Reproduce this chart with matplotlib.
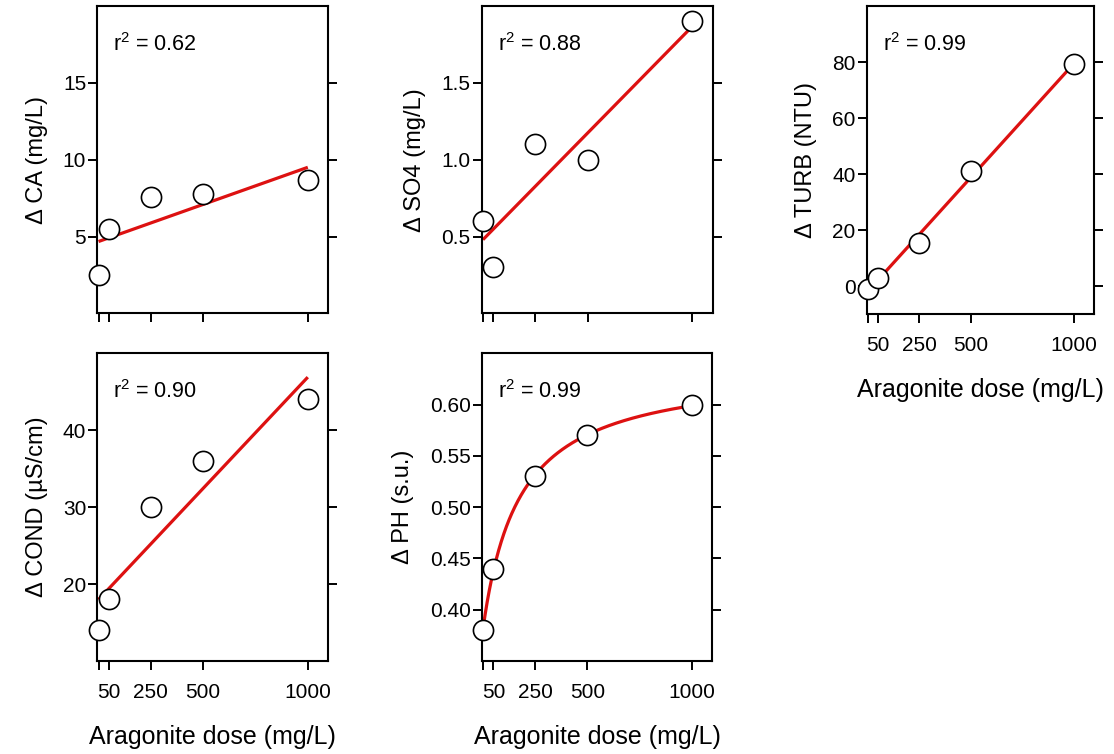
import numpy as np
import matplotlib
matplotlib.use('Agg')
import matplotlib.pyplot as plt

plt.rcParams['font.family'] = ['Liberation Sans', 'DejaVu Sans']
plt.rcParams['mathtext.fontset'] = 'custom'
plt.rcParams['mathtext.rm'] = 'Liberation Sans'
plt.rcParams['mathtext.it'] = 'Liberation Sans'
plt.rcParams['mathtext.default'] = 'regular'

# ---- data ----
dose = [0, 50, 250, 500, 1000]
dose_ticks = [0, 50, 250, 500, 1000]
dose_tick_labels = ['', '50', '250', '500', '1000']

ca = [2.5, 5.5, 7.6, 7.8, 8.7]
so4 = [0.6, 0.3, 1.1, 1.0, 1.9]
turb = [-1.0, 3.0, 15.3, 41.2, 79.2]
cond = [14, 18, 30, 36, 44]
ph = [0.38, 0.44, 0.53, 0.57, 0.60]

ylabels = ['\u0394 CA (mg/L)', '\u0394 SO4 (mg/L)', '\u0394 TURB (NTU)',
           '\u0394 COND (\u00b5S/cm)', '\u0394 PH (s.u.)']
r2_labels = ['0.62', '0.88', '0.99', '0.90', '0.99']

ca_ticks = [5, 10, 15]
so4_ticks = [0.5, 1.0, 1.5]
turb_ticks = [0, 20, 40, 60, 80]
cond_ticks = [20, 30, 40]
ph_ticks = [0.40, 0.45, 0.50, 0.55, 0.60]

ca_lim = (0, 20)
so4_lim = (0, 2)
turb_lim = (-10, 100)
cond_lim = (10, 50)
ph_lim = (0.35, 0.65)

# ---- layout (pixel boxes: left, top, right, bottom) ----
W, H = 1114, 754
boxes = [
    (97.3, 6, 328.3, 313.5),
    (481.7, 6, 713.0, 313.5),
    (866.7, 6, 1094.3, 314.3),
    (97.3, 353.3, 328.3, 661),
    (481.7, 353.3, 712.3, 661),
]

fig = plt.figure(figsize=(W / 100, H / 100), dpi=100)

RED = '#dd1111'
panels = [
    (ca, ca_ticks, ca_lim, ['5', '10', '15'], 'lin', False),
    (so4, so4_ticks, so4_lim, ['0.5', '1.0', '1.5'], 'lin', False),
    (turb, turb_ticks, turb_lim, ['0', '20', '40', '60', '80'], 'lin', True),
    (cond, cond_ticks, cond_lim, ['20', '30', '40'], 'lin', True),
    (ph, ph_ticks, ph_lim, ['0.40', '0.45', '0.50', '0.55', '0.60'], 'mm', True),
]

x = np.array(dose, dtype=float)
xs = np.linspace(0, 1000, 400)

for i, (yv, yt, ylim, ytl, kind, xlab) in enumerate(panels):
    l, t, r, b = boxes[i]
    ax = fig.add_axes([l / W, 1 - b / H, (r - l) / W, (b - t) / H])
    y = np.array(yv, dtype=float)

    if kind == 'lin':
        slope, icpt = np.polyfit(x, y, 1)
        ys = icpt + slope * xs
    else:
        # saturating fit y = c + a*x/(k+x)
        best = None
        for k in np.linspace(5, 1000, 2000):
            g = x / (k + x)
            A = np.vstack([np.ones_like(g), g]).T
            coef, res, *_ = np.linalg.lstsq(A, y, rcond=None)
            sse = np.sum((A @ coef - y) ** 2)
            if best is None or sse < best[0]:
                best = (sse, k, coef)
        _, k, coef = best
        ys = coef[0] + coef[1] * xs / (k + xs)

    ax.plot(xs, ys, color=RED, lw=2.3, zorder=2, solid_capstyle='butt')
    ax.plot(x, y, 'o', ms=14.5, mfc='white', mec='black', mew=1.2,
            zorder=4, clip_on=False)

    ax.set_xlim(-6, 1098)
    ax.set_ylim(*ylim)
    ax.set_xticks(dose_ticks)
    ax.set_yticks(yt)
    ax.set_yticklabels(ytl)
    if xlab:
        ax.set_xticklabels(dose_tick_labels)
        ax.set_xlabel('Aragonite dose (mg/L)', fontsize=18, labelpad=17)
    else:
        ax.set_xticklabels([''] * len(dose_ticks))

    ax.set_ylabel(ylabels[i], fontsize=17, labelpad=11)
    ax.tick_params(axis='both', direction='out', length=6.5, width=1.4,
                   labelsize=15, color='black')
    ax.tick_params(axis='x', pad=9)
    ax.tick_params(axis='y', pad=1.5, right=True, labelright=False)
    for s in ax.spines.values():
        s.set_linewidth(1.5)
        s.set_color('black')

    ax.text(0.07, 0.875, 'r$^{2}$ = ' + r2_labels[i], transform=ax.transAxes,
            fontsize=15.5, ha='left', va='center')

fig.savefig('out.png', dpi=100)
